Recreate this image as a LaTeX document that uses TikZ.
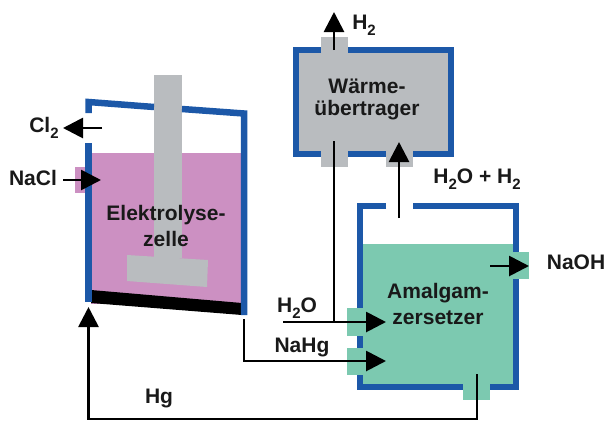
\documentclass[tikz,border=0pt]{standalone}
\usepackage{fontspec}
\setmainfont{Liberation Sans}
\usetikzlibrary{arrows.meta}
\definecolor{wallblue}{HTML}{1C58A8}
\definecolor{cellpink}{HTML}{CC90C2}
\definecolor{stackgray}{HTML}{B9BCBF}
\definecolor{bathgreen}{HTML}{7CC9B0}
\newcommand{\subtwo}{\raisebox{-0.28em}{\fontsize{15}{15}\selectfont 2}}
\tikzset{
    wall/.style={line width=6.5pt, wallblue, line cap=butt, line join=miter},
    flow/.style={line width=2.8pt, black, line join=miter, -{Triangle[length=20pt,width=20pt]}},
    plainflow/.style={line width=2.8pt, black},
    chem/.style={font=\fontsize{21}{25}\selectfont\bfseries, inner sep=0pt, text=black!90},
}
\begin{document}
\begin{tikzpicture}[x=1pt,y=-1pt]
    \useasboundingbox (0,0) rectangle (609,421);

    % --- Electrolysis cell: liquid, nozzle, mercury floor ---
    \fill[cellpink] (91,153) rectangle (242,304);
    \fill[cellpink] (75,167) rectangle (92,193);
    \fill[black] (91,290) -- (242,303) -- (242,315) -- (91,303) -- cycle;

    % --- Electrode ---
    \fill[stackgray] (154,75) rectangle (182,258);
    \fill[stackgray] (127,255) -- (208,260) -- (207,287) -- (127,281) -- cycle;

    % --- Cell walls ---
    \draw[wall] (88.5,113) -- (88.5,102) -- (154,107);
    \draw[wall] (182,109) -- (244,113.5) -- (244,315);
    \draw[wall] (88.5,143) -- (88.5,302);

    % --- Heat exchanger ---
    \fill[stackgray] (296,50) rectangle (451,154);
    \fill[stackgray] (321,37) rectangle (348,167);
    \fill[stackgray] (386,140) rectangle (413,167);
    \draw[wall] (321,50) -- (296,50) -- (296,154) -- (321,154);
    \draw[wall] (348,50) -- (451,50) -- (451,154) -- (413,154);
    \draw[wall] (348,154) -- (386,154);

    % --- Amalgam decomposer ---
    \fill[bathgreen] (360,244) rectangle (516,384);
    \fill[bathgreen] (500,252) rectangle (529,279);
    \fill[bathgreen] (347,308) rectangle (370,336);
    \fill[bathgreen] (347,348) rectangle (370,375);
    \fill[bathgreen] (463,375) rectangle (490,400);
    \draw[wall] (386,206) -- (360,206) -- (360,308);
    \draw[wall] (360,336) -- (360,348);
    \draw[wall] (360,375) -- (360,387) -- (463,387);
    \draw[wall] (413,206) -- (516,206) -- (516,252);
    \draw[wall] (516,279) -- (516,387) -- (490,387);

    % --- Labels ---
    \node[chem] (cell1) at (166,215) {Elektrolyse-};
    \node[chem] (cell2) at (166,239) {zelle};
    \node[chem] (hex1) at (367,86) {Wärme-};
    \node[chem] (hex2) at (367,110) {übertrager};
    \node[chem] (dec1) at (438,293) {Amalgam-};
    \node[chem] (dec2) at (438,318) {zersetzer};
    \node[chem] (cl) at (44,128) {Cl\subtwo};
    \node[chem] (nacl) at (33,178) {NaCl};
    \node[chem] (hg) at (159,398) {Hg};
    \node[chem] (h2) at (364,25) {H\subtwo};
    \node[chem] (h2oh2) at (477,179) {H\subtwo O + H\subtwo};
    \node[chem] (h2o) at (297,308) {H\subtwo O};
    \node[chem] (nahg) at (302,347) {NaHg};
    \node[chem] (naoh) at (576,262) {NaOH};

    % --- Flow ends ---
    \coordinate (clin) at (102,128);
    \coordinate (clout) at (63,128);
    \coordinate (naclin) at (63,180);
    \coordinate (naclout) at (101,180);
    \coordinate (hgin) at (477,374);
    \coordinate (hgcorner) at (477,419);
    \coordinate (hgmid) at (88.5,419);
    \coordinate (hgout) at (88.5,307);
    \coordinate (nahgin) at (244,319);
    \coordinate (nahgcorner) at (244,361);
    \coordinate (nahgout) at (386,361);
    \coordinate (h2oin) at (283,322);
    \coordinate (h2oout) at (386,322);
    \coordinate (coolin) at (334,141);
    \coordinate (coolout) at (334,322);
    \coordinate (vapin) at (399,218);
    \coordinate (vapout) at (399,142);
    \coordinate (hydin) at (334,50);
    \coordinate (hydout) at (334,12);
    \coordinate (naohin) at (490,266);
    \coordinate (naohout) at (529,266);

    % --- Flows ---
    \draw[flow] (clin) -- (clout);
    \draw[flow] (naclin) -- (naclout);
    \draw[flow] (hgin) -- (hgcorner) -- (hgmid) -- (hgout);
    \draw[flow] (nahgin) -- (nahgcorner) -- (nahgout);
    \draw[flow] (h2oin) -- (h2oout);
    \draw[plainflow] (coolin) -- (coolout);
    \draw[flow] (vapin) -- (vapout);
    \draw[flow] (hydin) -- (hydout);
    \draw[flow] (naohin) -- (naohout);
\end{tikzpicture}
\end{document}
